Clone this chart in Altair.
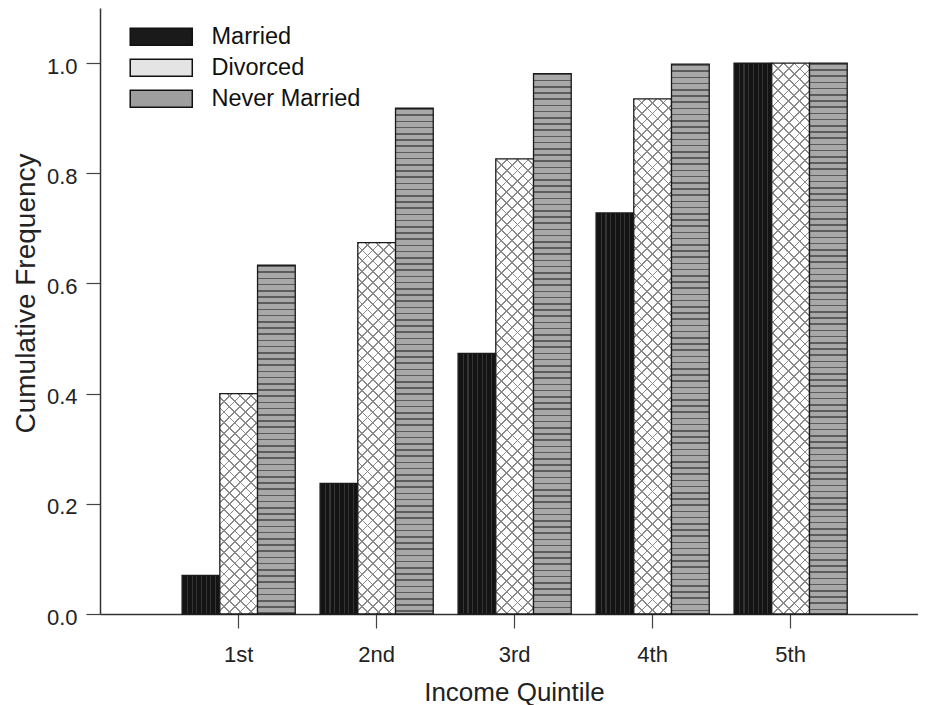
import altair as alt
import pandas as pd

# ---------------- data ----------------
quintiles = ["1st", "2nd", "3rd", "4th", "5th"]
series = ["Married", "Divorced", "Never Married"]
married = [0.070, 0.237, 0.473, 0.728, 1.000]
divorced = [0.400, 0.674, 0.826, 0.935, 1.000]
never_married = [0.633, 0.918, 0.981, 0.998, 1.000]
y_ticks = [0.0, 0.2, 0.4, 0.6, 0.8, 1.0]

values = {"Married": married, "Divorced": divorced, "Never Married": never_married}
df = pd.DataFrame(
    [{"quintile": q, "series": s, "value": values[s][i]}
     for s in series for i, q in enumerate(quintiles)]
)

# ---------------- layout ----------------
W, H = 818, 606
Y_MAX = 1.1
P_IN, P_OUT, ALIGN = 0.18, 0.554, 0.537
step = W / (len(quintiles) - P_IN + 2 * P_OUT)
bar_w = step * (1 - P_IN) / len(series)
FONT = "Liberation Sans"
INK = "#1a1a1a"


def bar_h(v):
    return v / Y_MAX * H


def stripe_stops(period, line, bg, line_col):
    stops = []
    t = 0.0
    while t < 1:
        b = min(t + line, 1.0)
        c = min(t + period, 1.0)
        stops += [(t, line_col), (b, line_col), (b, bg), (c, bg)]
        t += period
    return [{"offset": round(o, 5), "color": col} for o, col in stops]


def grad(x1, y1, x2, y2, stops):
    return {"gradient": "linear", "x1": x1, "y1": y1, "x2": x2, "y2": y2, "stops": stops}


# ---------------- encodings ----------------
x_axis = alt.Axis(
    title="Income Quintile", labelAngle=0, labelFontSize=22, labelPadding=16,
    tickSize=14, tickWidth=1.2, tickColor="#444", domainColor="#333", domainWidth=1.5,
    labelColor="#222", titleColor="#222", titleFontSize=26, titleFontWeight="normal",
    titleX=414, titleY=86, titleBaseline="alphabetic", grid=False,
)
y_axis = alt.Axis(
    title="Cumulative Frequency", values=y_ticks, format=".1f", labelFontSize=22,
    labelPadding=9, labelOffset=3, tickSize=14, tickWidth=1.2, tickColor="#444",
    domainColor="#333", domainWidth=1.5, labelColor="#222", titleColor="#222",
    titleFontSize=28, titleFontWeight="normal", titleX=-66, titleY=285,
    titleBaseline="alphabetic", grid=False,
)

X = alt.X("quintile:N", scale=alt.Scale(domain=quintiles, paddingInner=P_IN,
                                         paddingOuter=P_OUT, align=ALIGN), axis=x_axis)
XO = alt.XOffset("series:N", scale=alt.Scale(domain=series, paddingInner=0, paddingOuter=0))
Y = alt.Y("value:Q", scale=alt.Scale(domain=[0, Y_MAX], nice=False, zero=True), axis=y_axis)

legend = alt.Legend(
    title=None, orient="none", legendX=49.5, legendY=17,
    symbolType="M-3.65,-1L3.65,-1L3.65,1L-3.65,1Z", symbolSize=289,
    symbolStrokeColor="#111", symbolStrokeWidth=1.5, labelFontSize=23.5,
    labelOffset=38.5, rowPadding=6, padding=0, labelColor="#111", labelFont=FONT,
)

base = alt.Chart(df).mark_bar(strokeWidth=0).encode(
    x=X, xOffset=XO, y=Y,
    color=alt.Color("series:N", scale=alt.Scale(domain=series,
                    range=["#1a1a1a", "#e4e4e4", "#9e9e9e"]), legend=legend),
)


def overlay(s, q, fill, stroke=True):
    kw = dict(fill=fill)
    if stroke:
        kw.update(stroke=INK, strokeWidth=1.3)
    else:
        kw.update(strokeWidth=0)
    return (
        alt.Chart(df)
        .transform_filter((alt.datum.series == s) & (alt.datum.quintile == q))
        .mark_bar(**kw)
        .encode(x=X, xOffset=XO, y=Y)
    )


layers = [base]
for i, q in enumerate(quintiles):
    # Married: black with faint vertical lines
    layers.append(overlay("Married", q, grad(0, 0, 1, 0, stripe_stops(
        4.7 / bar_w, 1.1 / bar_w, "#141414", "#353535"))))
    # Divorced: white with grey cross-hatch
    h = bar_h(divorced[i])
    S = bar_w + h
    a = S / (bar_w ** 2 + h ** 2)
    layers.append(overlay("Divorced", q, grad(0, 0, a * bar_w, a * h, stripe_stops(
        10.8 / S, 1.8 / S, "#ffffff", "#8a8a8a")), stroke=False))
    layers.append(overlay("Divorced", q, grad(0, 1, a * bar_w, 1 - a * h, stripe_stops(
        10.8 / S, 1.8 / S, "rgba(255,255,255,0)", "#8a8a8a"))))
    # Never married: grey with darker horizontal lines
    hn = bar_h(never_married[i])
    layers.append(overlay("Never Married", q, grad(0, 0, 0, 1, stripe_stops(
        6.2 / hn, 1.6 / hn, "#a8a8a8", "#5c5c5c"))))

chart = (
    alt.layer(*layers)
    .properties(
        width=W, height=H,
        padding={"left": 92, "top": 0, "right": 0, "bottom": 92},
        autosize=alt.AutoSizeParams(type="none"),
    )
    .configure(font=FONT)
    .configure_view(stroke=None)
)

chart.save("out.html", embed_options={"renderer": "svg", "actions": False})
